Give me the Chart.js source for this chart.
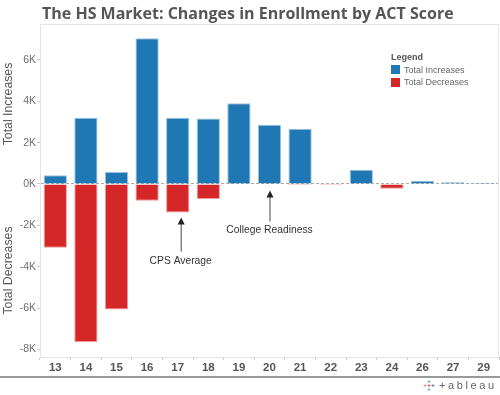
<!DOCTYPE html>
<html>
<head>
<meta charset="utf-8">
<script src="https://cdn.jsdelivr.net/npm/chart.js@4/dist/chart.umd.min.js"></script>
<style>
  body { margin: 0; background: #fff; font-family: "Liberation Sans", Arial, sans-serif; }
  #wrap { position: relative; width: 500px; height: 395px; overflow: hidden; }
  #grafico { position: absolute; left: 0; top: 0; }
  #titulo { position: absolute; left: 42px; top: 2px; font: bold 16px "Open Sans", sans-serif; color: #555; white-space: nowrap; }
  #leyenda { position: absolute; left: 391px; top: 51px; font-size: 9px; color: #666; line-height: 12.5px; }
  #leyenda .tit { font-weight: bold; color: #555; }
  #leyenda .item { display: flex; align-items: center; }
  #leyenda .cuadro { width: 9px; height: 9px; margin-right: 4px; }
  #logo { position: absolute; left: 423px; top: 379px; font-size: 11px; color: #666; white-space: nowrap; display: flex; align-items: center; }
  #logo .icono { display: grid; grid-template-columns: repeat(3, 4px); grid-template-rows: repeat(3, 4px); font: bold 6px/4px Arial; text-align: center; }
  #logo .txt { letter-spacing: 2.6px; margin-left: 4px; }
</style>
</head>
<body>
<div id="wrap">
  <canvas id="grafico" width="500" height="395"></canvas>
  <div id="titulo">The HS Market: Changes in Enrollment by ACT Score</div>
  <div id="leyenda">
    <div class="tit">Legend</div>
    <div class="item"><span class="cuadro" id="c-inc"></span>Total Increases</div>
    <div class="item"><span class="cuadro" id="c-dec"></span>Total Decreases</div>
  </div>
  <div id="logo">
    <span class="icono">
      <span></span><span style="color:#5b879b">+</span><span></span>
      <span style="color:#e8762b">+</span><span style="color:#c72037">+</span><span style="color:#1f457e">+</span>
      <span></span><span style="color:#59879b">+</span><span></span>
    </span>
    <span class="txt">+ableau</span>
  </div>
</div>
<script>
const PUNTAJES   = ['13','14','15','16','17','18','19','20','21','22','23','24','26','27','29'];
const AUMENTOS   = [420, 3200, 580, 7050, 3200, 3170, 3910, 2860, 2670, 0, 690, 0, 160, 90, 50];
const BAJAS      = [-3080, -7640, -6070, -810, -1380, -730, 0, 0, -50, -50, 0, -230, 0, 0, 0];
const TICKS_Y    = [-8000, -6000, -4000, -2000, 0, 2000, 4000, 6000];
const Y_MIN = -8370, Y_MAX = 7740;

// anotaciones: categoría, texto, punta de flecha, cola y texto (en unidades del eje)
const NOTAS = [
  { cat: '17', texto: 'CPS Average',       punta: -1620, cola: -3270, ytexto: -3710, dx: 3 },
  { cat: '20', texto: 'College Readiness', punta: -310,  cola: -1815, ytexto: -2220, dx: 0 },
];

const AZUL = '#1f77b4', ROJO = '#d62728';
document.getElementById('c-inc').style.background = AZUL;
document.getElementById('c-dec').style.background = ROJO;

const marco = {
  id: 'marco',
  beforeDatasetsDraw(chart) {
    const { ctx, chartArea: a } = chart;
    ctx.save();
    ctx.strokeStyle = '#e4e4e4';
    ctx.lineWidth = 1;
    ctx.strokeRect(a.left + 0.5, a.top + 0.5, a.right - a.left - 1, a.bottom - a.top);
    ctx.restore();
  },
  afterDatasetsDraw(chart) {
    const { ctx, scales: { x, y }, chartArea: a } = chart;
    ctx.save();
    // títulos del eje y
    const y0 = y.getPixelForValue(0);
    ctx.fillStyle = '#555';
    ctx.font = '12.3px "Liberation Sans", Arial, sans-serif';
    ctx.textAlign = 'center';
    ctx.textBaseline = 'middle';
    [['Total Increases', (a.top + y0) / 2], ['Total Decreases', (y0 + a.bottom) / 2]].forEach(([t, py]) => {
      ctx.save();
      ctx.translate(9, py);
      ctx.rotate(-Math.PI / 2);
      ctx.fillText(t, 0, 0);
      ctx.restore();
    });
    // anotaciones con flecha
    ctx.font = '10.3px "Liberation Sans", Arial, sans-serif';
    NOTAS.forEach(n => {
      const px = x.getPixelForValue(PUNTAJES.indexOf(n.cat)) + n.dx;
      const pPunta = y.getPixelForValue(n.punta);
      const pCola = y.getPixelForValue(n.cola);
      ctx.strokeStyle = '#444';
      ctx.fillStyle = '#222';
      ctx.lineWidth = 1;
      ctx.beginPath();
      ctx.moveTo(px + 0.5, pCola);
      ctx.lineTo(px + 0.5, pPunta + 5);
      ctx.stroke();
      ctx.beginPath();
      ctx.moveTo(px + 0.5, pPunta);
      ctx.lineTo(px - 3, pPunta + 7);
      ctx.lineTo(px + 4, pPunta + 7);
      ctx.closePath();
      ctx.fill();
      ctx.fillStyle = '#333';
      ctx.fillText(n.texto, px, y.getPixelForValue(n.ytexto));
    });
    ctx.restore();
  },
  afterDraw(chart) {
    const { ctx } = chart;
    ctx.save();
    ctx.strokeStyle = '#999';
    ctx.lineWidth = 2;
    ctx.beginPath();
    ctx.moveTo(0, 377);
    ctx.lineTo(500, 377);
    ctx.stroke();
    ctx.restore();
  }
};

new Chart(document.getElementById('grafico'), {
  type: 'bar',
  data: {
    labels: PUNTAJES,
    datasets: [
      { label: 'Total Increases', data: AUMENTOS, backgroundColor: AZUL, borderColor: '#9cc3e0', borderWidth: 1 },
      { label: 'Total Decreases', data: BAJAS, backgroundColor: ROJO, borderColor: '#ef9a9a', borderWidth: 1 },
    ],
  },
  options: {
    responsive: false,
    animation: false,
    barPercentage: 0.76,
    categoryPercentage: 1,
    layout: { padding: { top: 24, right: 1, left: 0, bottom: 0 } },
    scales: {
      x: {
        stacked: true,
        grid: { drawOnChartArea: false, tickLength: 3, color: '#ccc' },
        border: { color: '#ccc' },
        ticks: { color: '#555', font: { size: 11.5, weight: 'bold', family: '"Liberation Sans", Arial' }, padding: 1 },
        afterFit: s => { s.height = 38; },
      },
      y: {
        stacked: true,
        min: Y_MIN,
        max: Y_MAX,
        afterBuildTicks: s => { s.ticks = TICKS_Y.map(v => ({ value: v })); },
        ticks: {
          callback: v => (v / 1000) + 'K',
          color: '#6e6e6e',
          font: { size: 10.5, family: '"Liberation Sans", Arial' },
          padding: 1,
        },
        grid: {
          drawTicks: true,
          tickLength: 3,
          tickColor: '#ccc',
          color: c => (c.tick && c.tick.value === 0 ? '#aaa' : 'transparent'),
        },
        border: { color: '#ddd', dash: [3, 2] },
        afterFit: s => { s.width = 40; },
      },
    },
    plugins: {
      legend: { display: false },
      tooltip: { enabled: false },
    },
  },
  plugins: [marco],
});
</script>
</body>
</html>
